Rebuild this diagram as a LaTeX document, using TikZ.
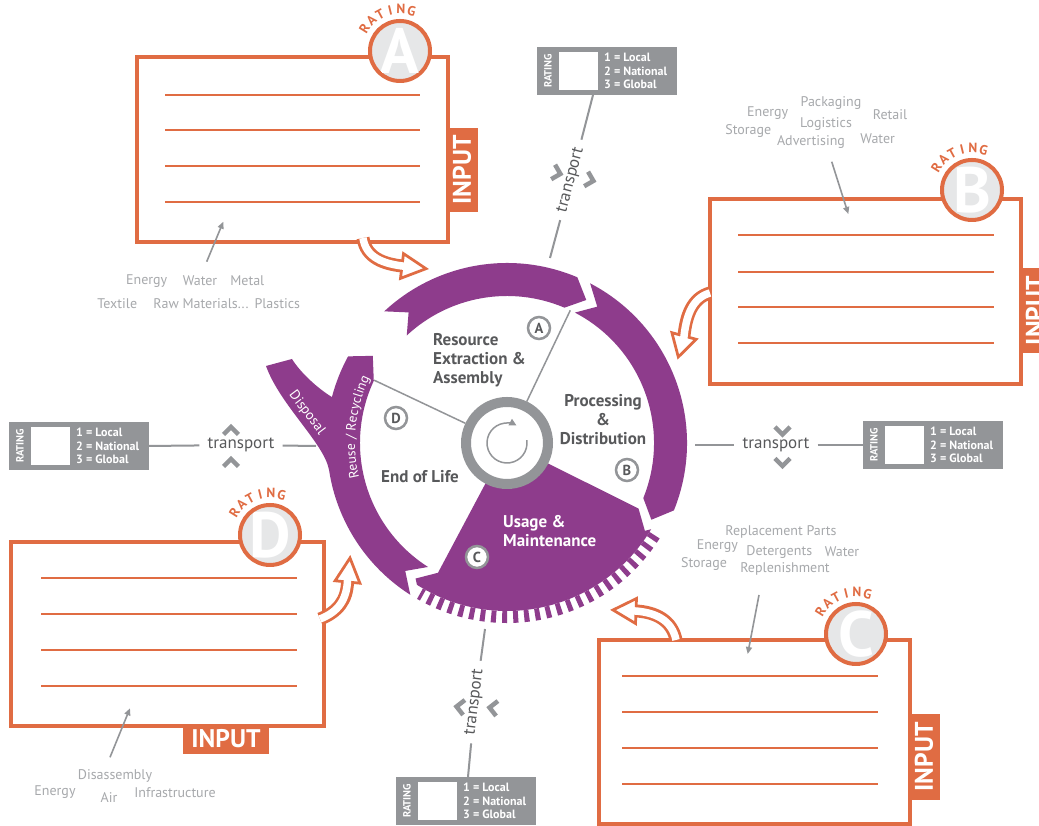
\documentclass[tikz,border=0pt]{standalone}
\usepackage{fontspec}
\setmainfont{PT Sans}
\usetikzlibrary{arrows.meta,decorations.text,calc}
\definecolor{purp}{HTML}{8E3C8C}
\definecolor{orng}{HTML}{E06C43}
\definecolor{gry}{HTML}{939598}
\definecolor{lgry}{HTML}{A7A9AC}
\definecolor{dgry}{HTML}{58595B}
\definecolor{bdg}{HTML}{E6E7E8}
\newcommand{\fs}[1]{\fontsize{#1}{#1}\selectfont}
\tikzset{
 ibox/.style={draw=orng, line width=4pt, fill=white, inner sep=0pt, anchor=north west},
 iline/.style={draw=orng, line width=2pt},
 tabst/.style={fill=orng, text=white, font=\fs{25.5}\bfseries, inner sep=0pt},
 badge/.style={circle, fill=bdg, draw=orng, line width=4pt, minimum size=60pt, inner sep=0pt},
 bletter/.style={text=white, font=\fs{64}\bfseries, inner sep=0pt},
 rch/.style={text=orng, font=\fs{13.5}\bfseries, inner sep=0pt},
 ratebg/.style={fill=gry, minimum width=140pt, minimum height=48pt, inner sep=0pt, anchor=north west},
 rsq/.style={fill=white, minimum width=39pt, minimum height=38pt, inner sep=0pt, anchor=north west},
 rtxt/.style={text=white, font=\fontsize{12}{13.5}\selectfont\bfseries, inner sep=0pt, align=left, anchor=west},
 rlab/.style={text=white, font=\fs{10.5}\bfseries, inner sep=0pt},
 tline/.style={draw=gry, line width=2pt},
 ttext/.style={text=dgry, font=\fs{17}, inner xsep=8pt, inner ysep=2pt},
 chevst/.style={draw=gry, line width=4.5pt, miter limit=10},
 listt/.style={text=lgry, font=\fs{14}, inner sep=0pt},
 garrow/.style={draw=gry, line width=1.6pt, -{Triangle[length=7pt,width=6pt]}},
 holo/.style={draw=orng, line width=13pt},
 holi/.style={draw=white, line width=7.5pt},
 headst/.style={fill=white, draw=orng, line width=2.75pt, line join=miter},
 seg/.style={fill=purp},
 lbl/.style={text=dgry, font=\fontsize{17}{19}\selectfont\bfseries, inner sep=0pt},
 mkr/.style={circle, draw=gry, fill=white, line width=2.5pt, minimum size=22pt, inner sep=0pt, text=dgry, font=\fs{14.5}\bfseries},
 divl/.style={draw=gry, line width=1.5pt},
 whitet/.style={text=white, font=\fs{14}, inner sep=0pt}
}
\newcommand{\ratingbox}[3]{%
  \node[ratebg] (#1) at (#2,#3) {};
  \node[rsq] (#1sq) at (#2+22,#3-5) {};
  \node[rlab, rotate=90] (#1lab) at (#2+11,#3-24) {RATING};
  \node[rtxt] (#1txt) at (#2+67,#3-24) {1 = Local\\2 = National\\3 = Global};
}
\newcommand{\badgeat}[4]{%
  \node[badge] (#1) at (#3,#4) {};
  \begin{scope}
    \clip (#3,#4) circle (28);
    \node[bletter] (#1L) at (#3,#4) {#2};
  \end{scope}
  \foreach \rc [count=\ci] in {R,A,T,I,N,G}{%
    \pgfmathsetmacro\rang{148-(\ci-1)*14.8}%
    \node[rch, rotate=\rang-90] (#1R\ci) at ([shift={(\rang:42)}]#3,#4) {\rc};
  }
}
\newcommand{\chev}[3]{%
  \begin{scope}[shift={(#1,#2)},rotate=#3]
    \draw[chevst] (-4,7.5) -- (3.5,0) -- (-4,-7.5);
  \end{scope}
}
\begin{document}
\begin{tikzpicture}[x=1pt,y=1pt]
\useasboundingbox (0,0) rectangle (1039,826);
\fill[white] (0,0) rectangle (1039,826);

% ---------- input boxes ----------
\node[ibox, minimum width=311pt, minimum height=185pt] (boxA) at (135,771) {};
\foreach \yy in {731,696,660,624} \draw[iline] (165,\yy) -- (420,\yy);
\node[tabst, minimum width=84pt, minimum height=32pt, rotate=90] (tabA) at (462,656) {INPUT};

\node[ibox, minimum width=311pt, minimum height=185pt] (boxB) at (708,629) {};
\foreach \yy in {591,554,519,483} \draw[iline] (738,\yy) -- (994,\yy);
\node[tabst, minimum width=85pt, minimum height=32pt, rotate=90] (tabB) at (1035,515.5) {INPUT};

\node[ibox, minimum width=311pt, minimum height=184pt] (boxC) at (597,188) {};
\foreach \yy in {150,114,78,42} \draw[iline] (622,\yy) -- (878,\yy);
\node[tabst, minimum width=86pt, minimum height=32pt, rotate=90] (tabC) at (924,69) {INPUT};

\node[ibox, minimum width=313pt, minimum height=184pt] (boxD) at (9,286) {};
\foreach \yy in {248,212,176,140} \draw[iline] (41,\yy) -- (297,\yy);
\node[tabst, minimum width=86pt, minimum height=30pt] (tabD) at (226,87) {INPUT};

% ---------- badges ----------
\badgeat{bgA}{A}{400}{775}
\badgeat{bgB}{B}{972}{636}
\badgeat{bgC}{C}{856}{192}
\badgeat{bgD}{D}{270}{291}

% ---------- hollow arrows ----------
\coordinate (aS) at (363,588); \coordinate (aC1) at (366,568); \coordinate (aC2) at (384,562);
\coordinate (aB) at (402,560); \coordinate (aT) at (426,557.3);
\coordinate (aL) at (403.5,572.4); \coordinate (aR) at (400.5,547.6);
\draw[holo] (aS) .. controls (aC1) and (aC2) .. (aB);
\draw[headst] (aT) -- (aL) -- (aR) -- cycle;
\draw[holi, shorten >=-3pt] (aS) .. controls (aC1) and (aC2) .. (aB);

\coordinate (bS) at (710,533); \coordinate (bC1) at (692,528); \coordinate (bC2) at (686,510);
\coordinate (bB) at (684,490); \coordinate (bT) at (678.3,469);
\coordinate (bL) at (696.1,486.7); \coordinate (bR) at (671.9,493.3);
\draw[holo] (bS) .. controls (bC1) and (bC2) .. (bB);
\draw[headst] (bT) -- (bL) -- (bR) -- cycle;
\draw[holi, shorten >=-3pt] (bS) .. controls (bC1) and (bC2) .. (bB);

\coordinate (cS) at (676,186); \coordinate (cC1) at (672,206); \coordinate (cC2) at (655,214);
\coordinate (cB) at (636,215); \coordinate (cT) at (613,216);
\coordinate (cL) at (636.5,227.5); \coordinate (cR) at (635.5,202.5);
\draw[holo] (cS) .. controls (cC1) and (cC2) .. (cB);
\draw[headst] (cT) -- (cL) -- (cR) -- cycle;
\draw[holi, shorten >=-3pt] (cS) .. controls (cC1) and (cC2) .. (cB);

\coordinate (dS) at (320,207); \coordinate (dC1) at (338,214); \coordinate (dC2) at (347,226);
\coordinate (dB) at (347.5,244); \coordinate (dT) at (350,268);
\coordinate (dL) at (359.9,242.8); \coordinate (dR) at (335.1,245.2);
\draw[holo] (dS) .. controls (dC1) and (dC2) .. (dB);
\draw[headst] (dT) -- (dL) -- (dR) -- cycle;
\draw[holi, shorten >=-3pt] (dS) .. controls (dC1) and (dC2) .. (dB);

% ---------- cycle ----------
\begin{scope}[shift={(507,383)}]
 \fill[seg] (133:180) arc[start angle=133,end angle=67,radius=180] -- (61:163.5) -- (67:147)
   arc[start angle=67,end angle=133,radius=147] -- (127:163.5) -- cycle;
 \fill[seg] (62.5:180) arc[start angle=62.5,end angle=-22,radius=180] -- (-28:163.5) -- (-22:147)
   arc[start angle=-22,end angle=62.5,radius=147] -- (56.5:163.5) -- cycle;
 \fill[seg] (-26.5:44) -- (-26.5:147) -- (-32.5:163.5) -- (-30.9:168)
   arc[start angle=-30.9,end angle=-122.4,radius=168] -- (-124:163.5) -- (-118:147) -- (-118:44)
   arc[start angle=-118,end angle=-26.5,radius=44] -- cycle;
 \draw[purp, line width=12pt, dash pattern=on 5pt off 6pt] (-32:174) arc[start angle=-32,end angle=-120,radius=174];
 \fill[seg] (237.5:147) -- (231.5:163.5) -- (237.5:180)
   arc[start angle=237.5,end angle=188.6,radius=180]
   .. controls (-183,0) and (-227,38) .. (-241,77) -- (-215,84)
   .. controls (-207,71) and (-190,55) .. (165.3:181)
   arc[start angle=165.3,end angle=151.4,radius=181] -- (147:160) -- (155:147)
   arc[start angle=155,end angle=237.5,radius=147] -- cycle;
 \path[decorate, decoration={text along path, text align=center, text color=white,
   text={|\fs{13.5}|Reuse / Recycling}}] (199:152) arc[start angle=199,end angle=149,radius=152];
 \draw[divl] (64.5:46) -- (64.5:147);
 \draw[divl] (154.7:46) -- (154.7:147);
\end{scope}
\node[whitet, rotate=-53] (tDisp) at (307,413) {Disposal};
\node[circle, draw=gry, line width=10pt, fill=white, minimum size=82pt, inner sep=0pt] (hub) at (507,383) {};
\draw[gry, line width=1.5pt, -{Triangle[length=7pt,width=7pt]}] ([shift={(8:20)}]507,383) arc[start angle=8,end angle=-298,radius=20];

\node[lbl, anchor=west, align=left] (tRes) at (433,466) {Resource\\Extraction \&\\Assembly};
\node[lbl, align=center] (tProc) at (603,406) {Processing\\\&\\Distribution};
\node[lbl] (tEnd) at (420,349) {End of Life};
\node[lbl, text=white, anchor=west, align=left] (tUse) at (503,295) {Usage \&\\Maintenance};

\node[mkr] (mA) at (539,498) {A};
\node[mkr] (mB) at (627,356) {B};
\node[mkr] (mC) at (477,269) {C};
\node[mkr] (mD) at (396,408) {D};

% ---------- rating boxes and transport ----------
\ratingbox{rT}{537}{779}
\ratingbox{rL}{9}{404}
\ratingbox{rR}{863}{405}
\ratingbox{rB}{396}{49}

\coordinate (rTb) at (593,731); \coordinate (ringT) at (550,568);
\node[ttext, rotate=75] (tT) at (571,646) {transport};
\draw[tline] (rTb) -- (tT) -- (ringT);
\chev{557}{653}{-15} \chev{590}{646}{-15}

\coordinate (rLr) at (149,380); \coordinate (ringL) at (316,380);
\node[ttext] (tL) at (241,381) {transport};
\draw[tline] (rLr) -- (tL) -- (ringL);
\chev{231}{395.5}{90} \chev{231}{363.5}{90}

\coordinate (ringR) at (695,381); \coordinate (rRl) at (863,381);
\node[ttext] (tR) at (776,381) {transport};
\draw[tline] (ringR) -- (tR) -- (rRl);
\chev{782.5}{395}{-90} \chev{782.5}{363.5}{-90}

\coordinate (ringB) at (485,197); \coordinate (rBt) at (468,49);
\node[ttext, rotate=83] (tB) at (475,124) {transport};
\draw[tline] (ringB) -- (tB) -- (rBt);
\chev{460}{119}{173} \chev{493}{118}{173}

% ---------- input lists ----------
\node[listt] (la1) at (146.7,545.3) {Energy};
\node[listt] (la2) at (200,545.3) {Water};
\node[listt] (la3) at (247.3,545.3) {Metal};
\node[listt] (la4) at (117.3,522.7) {Textile};
\node[listt] (la5) at (201,522.7) {Raw Materials...};
\node[listt] (la6) at (277.3,522.7) {Plastics};
\coordinate (laS) at (206.7,564.3); \coordinate (laE) at (223.3,604.3);
\draw[garrow] (laS) -- (laE);

\node[listt] (lb1) at (831,723.3) {Packaging};
\node[listt] (lb2) at (767.7,713.3) {Energy};
\node[listt] (lb3) at (890,711) {Retail};
\node[listt] (lb4) at (748.3,695.3) {Storage};
\node[listt] (lb5) at (826,701.7) {Logistics};
\node[listt] (lb6) at (877.7,687.7) {Water};
\node[listt] (lb7) at (811,683.7) {Advertising};
\coordinate (lbS) at (831.7,664.3); \coordinate (lbE) at (848.3,612);
\draw[garrow] (lbS) -- (lbE);

\node[listt] (lc1) at (781,294.3) {Replacement Parts};
\node[listt] (lc2) at (717.3,280.3) {Energy};
\node[listt] (lc3) at (779.3,274.3) {Detergents};
\node[listt] (lc4) at (842,274.3) {Water};
\node[listt] (lc5) at (704,261.7) {Storage};
\node[listt] (lc6) at (785,256.7) {Replenishment};
\coordinate (lcS) at (759,231); \coordinate (lcE) at (747.7,172);
\draw[garrow] (lcS) -- (lcE);

\node[listt] (ld1) at (115,50.3) {Disassembly};
\node[listt] (ld2) at (55,34.3) {Energy};
\node[listt] (ld3) at (109,28.7) {Air};
\node[listt] (ld4) at (175,33.7) {Infrastructure};
\coordinate (ldS) at (110,68.7); \coordinate (ldE) at (130,117.7);
\draw[garrow] (ldS) -- (ldE);
\end{tikzpicture}
\end{document}
